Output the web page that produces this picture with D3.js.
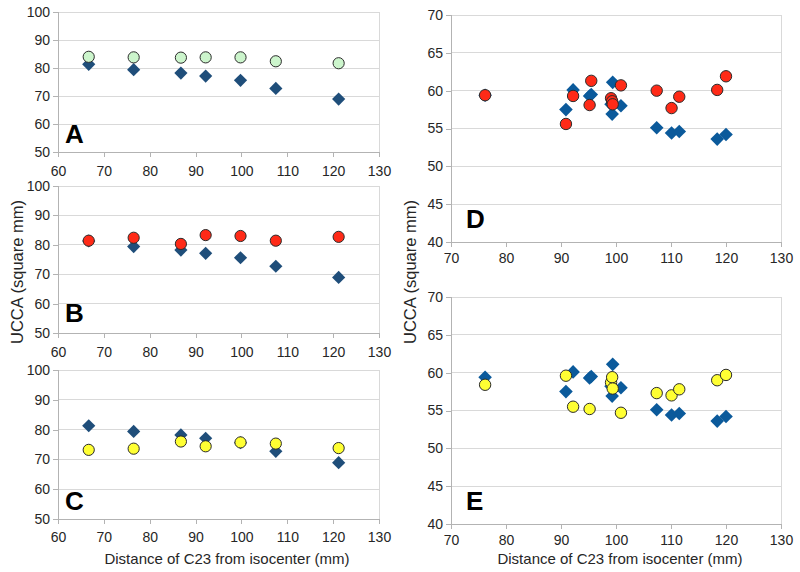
<!DOCTYPE html>
<html><head><meta charset="utf-8">
<script src="https://cdn.jsdelivr.net/npm/d3@7"></script>
<style>
body{margin:0;background:#fff;}
svg{display:block;font-family:"Liberation Sans",Arial,sans-serif;}
</style></head>
<body><svg id="c" width="800" height="572"></svg>
<script>
// ---- data ----
const leftX = [66.7, 76.5, 86.8, 92.2, 99.8, 107.5, 121.2];
const leftDiamonds = [81.3, 79.4, 78.2, 77.1, 75.6, 72.7, 68.9];
const circlesA = [84.0, 83.8, 83.7, 83.8, 83.8, 82.4, 81.7];
const circlesB = [81.4, 82.4, 80.3, 83.3, 83.0, 81.4, 82.7];
const circlesC = [73.2, 73.6, 76.0, 74.4, 75.7, 75.3, 73.8];

const rightX = [76.2, 90.9, 92.2, 95.2, 95.5, 99.1, 99.3, 99.4, 100.9, 107.4, 110.1, 111.5, 118.4, 120.0];
const rightDiamonds = [59.4, 57.5, 60.1, 59.3, 59.5, 58.2, 56.9, 61.1, 58.0, 55.1, 54.4, 54.6, 53.6, 54.2];
const circlesD = [59.4, 55.6, 59.3, 58.1, 61.3, 59.0, 58.6, 58.2, 60.7, 60.0, 57.7, 59.2, 60.1, 61.9];
const circlesE = [58.4, 59.6, 55.5, 55.2, null, 58.7, 59.4, 57.9, 54.7, 57.3, 57.0, 57.8, 59.0, 59.7];

const leftXTicks = [60, 70, 80, 90, 100, 110, 120, 130];
const leftYTicks = [50, 60, 70, 80, 90, 100];
const rightXTicks = [70, 80, 90, 100, 110, 120, 130];
const rightYTicks = [40, 45, 50, 55, 60, 65, 70];

const xTitle = "Distance of C23 from isocenter (mm)";
const yTitle = "UCCA (square mm)";

// ---- layout ----
const svg = d3.select("#c");
const panels = [
  {id:"A", xs:leftX, dia:leftDiamonds, circ:circlesA, fill:"#ccf5cc", x0:58, x1:379, yTop:12, yBot:152, xd:[60,130], yd:[50,100], xt:leftXTicks, yt:leftYTicks, dcol:"#1f4e7a", r:5.6, dhalf:6.6, letter:[65,143], lab:24},
  {id:"B", xs:leftX, dia:leftDiamonds, circ:circlesB, fill:"#ff2a17", x0:58, x1:379, yTop:186, yBot:333, xd:[60,130], yd:[50,100], xt:leftXTicks, yt:leftYTicks, dcol:"#1f4e7a", r:5.6, dhalf:6.6, letter:[65,322], lab:24},
  {id:"C", xs:leftX, dia:leftDiamonds, circ:circlesC, fill:"#ffff33", x0:58, x1:379, yTop:370, yBot:519, xd:[60,130], yd:[50,100], xt:leftXTicks, yt:leftYTicks, dcol:"#1f4e7a", r:5.6, dhalf:6.6, letter:[65,510], lab:23},
  {id:"D", xs:rightX, dia:rightDiamonds, circ:circlesD, fill:"#ff2a17", x0:451, x1:781, yTop:15, yBot:242, xd:[70,130], yd:[40,70], xt:rightXTicks, yt:rightYTicks, dcol:"#0b5a9b", r:5.7, dhalf:6.8, letter:[466,228], lab:21},
  {id:"E", xs:rightX, dia:rightDiamonds, circ:circlesE, fill:"#ffff33", x0:451, x1:781, yTop:297, yBot:524, xd:[70,130], yd:[40,70], xt:rightXTicks, yt:rightYTicks, dcol:"#0b5a9b", r:5.7, dhalf:6.8, letter:[466,510], lab:21}
];

panels.forEach(p => {
  const x = d3.scaleLinear().domain(p.xd).range([p.x0, p.x1]);
  const y = d3.scaleLinear().domain(p.yd).range([p.yBot, p.yTop]);
  const g = svg.append("g");

  // gridlines
  g.selectAll("line.grid").data(p.yt.filter(v => v !== p.yd[0])).enter().append("line")
    .attr("x1", p.x0).attr("x2", p.x1).attr("y1", d => y(d)).attr("y2", d => y(d))
    .attr("stroke", "#d9d9d9").attr("stroke-width", 1).attr("shape-rendering","crispEdges");
  // right border
  g.append("line").attr("x1", p.x1).attr("x2", p.x1).attr("y1", p.yTop).attr("y2", p.yBot)
    .attr("stroke", "#d9d9d9").attr("shape-rendering","crispEdges");

  // axes
  const ax = g.append("g").attr("transform", `translate(0,${p.yBot})`)
    .call(d3.axisBottom(x).tickValues(p.xt).tickSize(5).tickPadding(p.lab - 15).tickFormat(d3.format("d")));
  const ay = g.append("g").attr("transform", `translate(${p.x0},0)`)
    .call(d3.axisLeft(y).tickValues(p.yt).tickSize(5).tickPadding(3).tickFormat(d3.format("d")));
  [ax, ay].forEach(a => {
    a.select(".domain").attr("stroke", "#b3b3b3").attr("shape-rendering","crispEdges");
    a.selectAll(".tick line").attr("stroke", "#b3b3b3").attr("shape-rendering","crispEdges");
    a.selectAll("text").attr("fill", "#262626").style("font-size", "14px")
      .style("font-family", "'Liberation Sans',Arial,sans-serif");
  });

  // diamonds
  const dSym = d3.symbol().type(d3.symbolSquare).size(2 * p.dhalf * p.dhalf);
  const dData = p.xs.map((v, i) => ({x: v, y: p.dia[i]}));
  g.selectAll("path.dia").data(dData).enter().append("path")
    .attr("d", dSym)
    .attr("transform", d => `translate(${x(d.x)},${y(d.y)}) rotate(45)`)
    .attr("fill", p.dcol);

  // circles
  const cData = p.xs.map((v, i) => ({x: v, y: p.circ[i]})).filter(d => d.y !== null);
  g.selectAll("circle.pt").data(cData).enter().append("circle")
    .attr("cx", d => x(d.x)).attr("cy", d => y(d.y)).attr("r", p.r)
    .attr("fill", p.fill).attr("stroke", "#2b2b2b").attr("stroke-width", 1);

  // letter
  g.append("text").attr("x", p.letter[0]).attr("y", p.letter[1])
    .attr("font-size", 26).attr("font-weight", "bold").attr("fill", "#000")
    .text(p.id);
});

// axis titles
svg.append("text").attr("x", 227).attr("y", 564).attr("text-anchor", "middle")
  .attr("font-size", 15).attr("fill", "#262626").text(xTitle);
svg.append("text").attr("x", 620).attr("y", 564).attr("text-anchor", "middle")
  .attr("font-size", 15).attr("fill", "#262626").text(xTitle);
svg.append("text").attr("transform", "translate(23,272) rotate(-90)").attr("text-anchor", "middle")
  .attr("font-size", 16.5).attr("fill", "#262626").text(yTitle);
svg.append("text").attr("transform", "translate(416,272) rotate(-90)").attr("text-anchor", "middle")
  .attr("font-size", 16.5).attr("fill", "#262626").text(yTitle);
</script>
</body></html>
